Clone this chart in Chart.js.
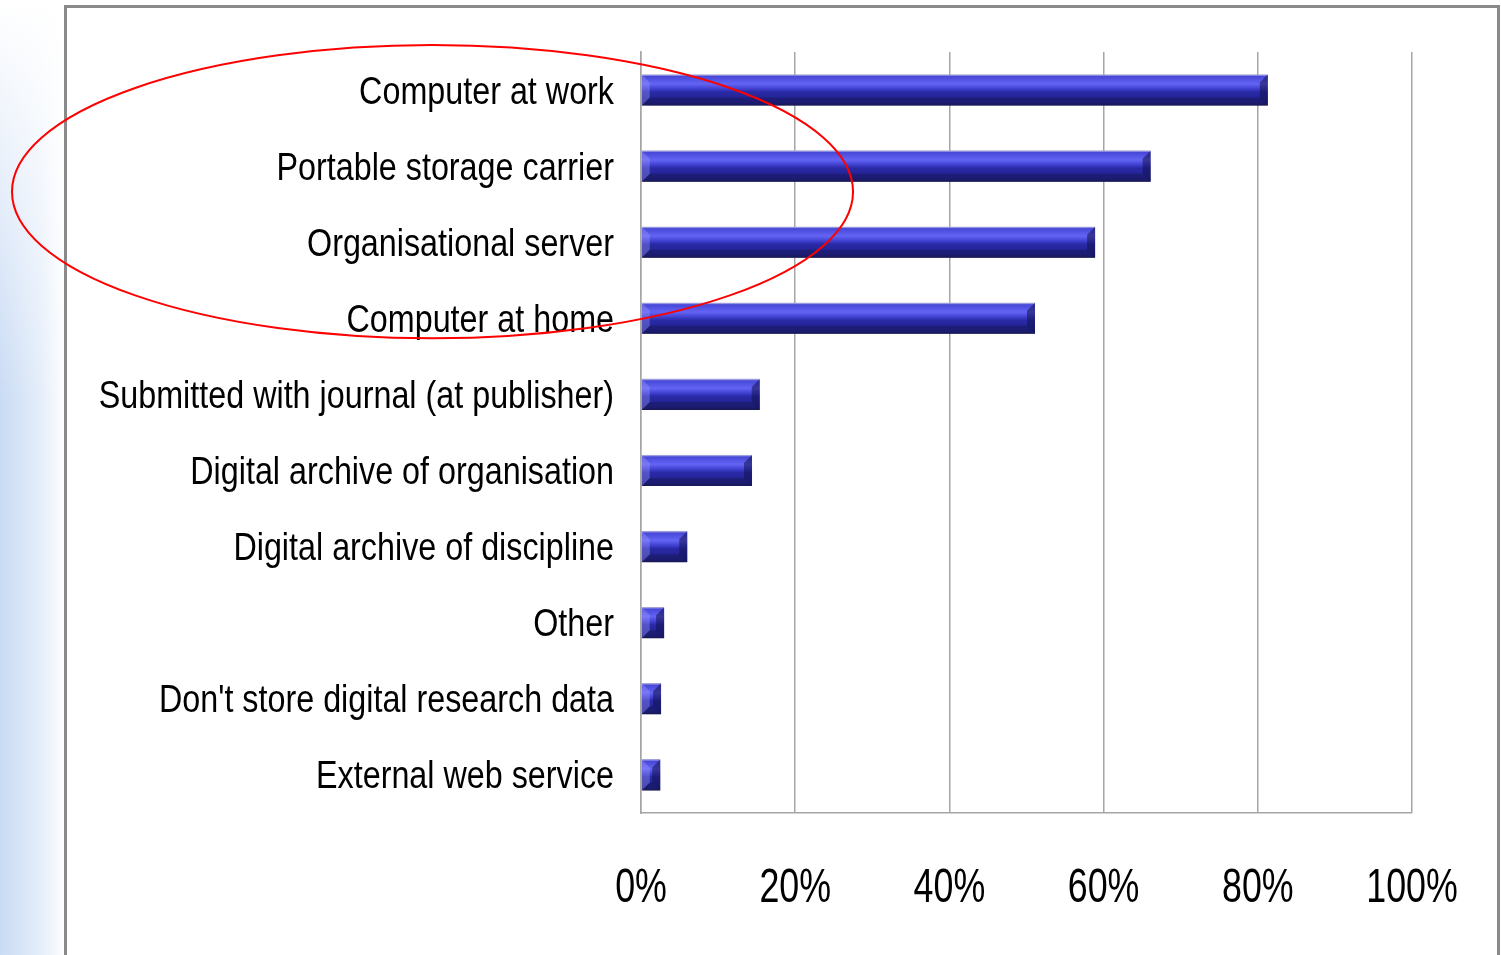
<!DOCTYPE html>
<html>
<head>
<meta charset="utf-8">
<script src="https://cdn.jsdelivr.net/npm/chart.js@4/dist/chart.umd.min.js"></script>
<style>
  html, body { margin: 0; padding: 0; }
  body {
    width: 1501px; height: 955px; overflow: hidden; position: relative;
    background: linear-gradient(to right, #c9dbf4 0px, #e4edfa 40px, #ffffff 66px);
  }
  .fade { position: absolute; left: 0; top: 0; width: 66px; height: 400px;
    background: linear-gradient(to bottom, #ffffff 0%, rgba(255,255,255,0) 100%); }
  .frame { position: absolute; left: 64px; top: 5px; width: 1430px; height: 970px;
    border: 3px solid #8a8a8a; background: #fff; }
  #wrap { position: absolute; left: 0; top: 0; width: 1501px; height: 955px; }
</style>
</head>
<body>
<div class="fade"></div>
<div class="frame"></div>
<div id="wrap"><canvas id="chart"></canvas></div>
<script>
const categories = [
  'Computer at work',
  'Portable storage carrier',
  'Organisational server',
  'Computer at home',
  'Submitted with journal (at publisher)',
  'Digital archive of organisation',
  'Digital archive of discipline',
  'Other',
  "Don't store digital research data",
  'External web service'
]
const shares = [81.3, 66.1, 58.9, 51.1, 15.4, 14.4, 6.0, 3.0, 2.6, 2.5]
const tickValues = [0, 20, 40, 60, 80, 100]

const font = "'Liberation Sans', Arial, sans-serif"
const barSize = 31
// horizontal squeeze (and small vertical nudge) per axis, for the narrow-font look
const narrow = { x: 0.73, y: 0.85 }
const nudge = { x: 0, y: 3 }

// glossy fill across the bar height
function barFill (ctx) {
  const chart = ctx.chart
  const y = chart.scales.y
  const c = y ? y.getPixelForValue(ctx.dataIndex) : NaN
  if (!Number.isFinite(c)) return '#2a2aa0'
  const g = chart.ctx.createLinearGradient(0, c - barSize / 2, 0, c + barSize / 2)
  g.addColorStop(0, '#b4b4ea')
  g.addColorStop(0.06, '#4848d8')
  g.addColorStop(0.3, '#6464f4')
  g.addColorStop(0.45, '#4242d2')
  g.addColorStop(0.56, '#2a2aa8')
  g.addColorStop(0.9, '#20208a')
  g.addColorStop(1, '#1a1a5e')
  return g
}

const shadow = {
  id: 'shadow',
  beforeDatasetsDraw (chart) {
    const c = chart.ctx
    c.save()
    c.shadowColor = 'rgba(0,0,0,0.35)'
    c.shadowBlur = 9
    c.shadowOffsetX = 3
    c.shadowOffsetY = 7
  },
  afterDatasetsDraw (chart) {
    chart.ctx.restore()
  }
}

// bevel at the bar ends
const bevel = {
  id: 'bevel',
  afterDatasetsDraw (chart) {
    const c = chart.ctx
    chart.getDatasetMeta(0).data.forEach(bar => {
      const h = bar.height
      const top = bar.y - h / 2
      const bot = bar.y + h / 2
      const left = bar.base
      const right = bar.x
      const d = Math.min(8, (right - left) / 2)
      c.save()
      c.fillStyle = 'rgba(18,18,80,0.55)'
      c.beginPath()
      c.moveTo(right, top); c.lineTo(right, bot); c.lineTo(right - d, bot - d); c.lineTo(right - d, top + d)
      c.closePath(); c.fill()
      c.fillStyle = 'rgba(20,20,70,0.35)'
      c.beginPath()
      c.moveTo(left, bot); c.lineTo(right, bot); c.lineTo(right - d, bot - d); c.lineTo(left + d, bot - d)
      c.closePath(); c.fill()
      c.fillStyle = 'rgba(160,160,255,0.35)'
      c.beginPath()
      c.moveTo(left, top); c.lineTo(left + d, top + d); c.lineTo(left + d, bot - d); c.lineTo(left, bot)
      c.closePath(); c.fill()
      c.restore()
    })
  }
}

// squeeze tick text horizontally around each label's anchor
const narrowText = {
  id: 'narrowText',
  afterUpdate (chart) {
    Object.keys(narrow).forEach(id => {
      const scale = chart.scales[id]
      if (!scale || scale._narrowed) return
      const draw = scale.drawLabels.bind(scale)
      scale.drawLabels = function (area) {
        const c = chart.ctx
        const fill = c.fillText
        const k = narrow[id]
        c.fillText = function (t, x, y) {
          this.save()
          this.scale(k, 1)
          fill.call(this, t, x / k, y + nudge[id])
          this.restore()
        }
        draw(area)
        delete c.fillText
      }
      scale._narrowed = true
    })
  }
}

// red ellipse drawn around the first four categories
const ellipse = {
  id: 'ellipse',
  afterDraw (chart) {
    const x = chart.scales.x
    const y = chart.scales.y
    const top = y.getPixelForValue(0) - 45
    const bottom = y.getPixelForValue(3) + 20
    const left = 12
    const right = x.getPixelForValue(27.5)
    const c = chart.ctx
    c.save()
    c.strokeStyle = '#ff0000'
    c.lineWidth = 2
    c.beginPath()
    c.ellipse((left + right) / 2, (top + bottom) / 2, (right - left) / 2, (bottom - top) / 2, 0, 0, Math.PI * 2)
    c.stroke()
    c.restore()
  }
}

new Chart(document.getElementById('chart'), {
  type: 'bar',
  data: {
    labels: categories,
    datasets: [{
      data: shares,
      backgroundColor: barFill,
      borderColor: '#a4a4dc',
      borderWidth: { top: 1, left: 0, right: 0, bottom: 0 },
      borderSkipped: false,
      barThickness: barSize
    }]
  },
  options: {
    indexAxis: 'y',
    responsive: true,
    maintainAspectRatio: false,
    animation: false,
    layout: { padding: { left: 0, right: 89, top: 52, bottom: 0 } },
    plugins: { legend: { display: false }, tooltip: { enabled: false } },
    scales: {
      x: {
        min: 0,
        max: 100,
        afterBuildTicks (scale) {
          scale.ticks = tickValues.map(v => ({ value: v }))
        },
        afterFit (scale) {
          scale.height = 142
          scale.paddingLeft = 0
          scale.paddingRight = 0
        },
        grid: { color: '#a6a6a6', lineWidth: 1.5, drawTicks: false },
        border: { color: '#a6a6a6', width: 1.5 },
        ticks: {
          padding: 46,
          color: '#000',
          font: { family: font, size: 49 },
          callback: v => v + '%'
        }
      },
      y: {
        afterFit (scale) { scale.width = 641 },
        grid: { display: false, drawTicks: false },
        border: { color: '#a6a6a6', width: 1.5 },
        ticks: {
          padding: 27,
          color: '#000',
          font: { family: font, size: 38 }
        }
      }
    }
  },
  plugins: [shadow, bevel, narrowText, ellipse]
})
</script>
</body>
</html>
